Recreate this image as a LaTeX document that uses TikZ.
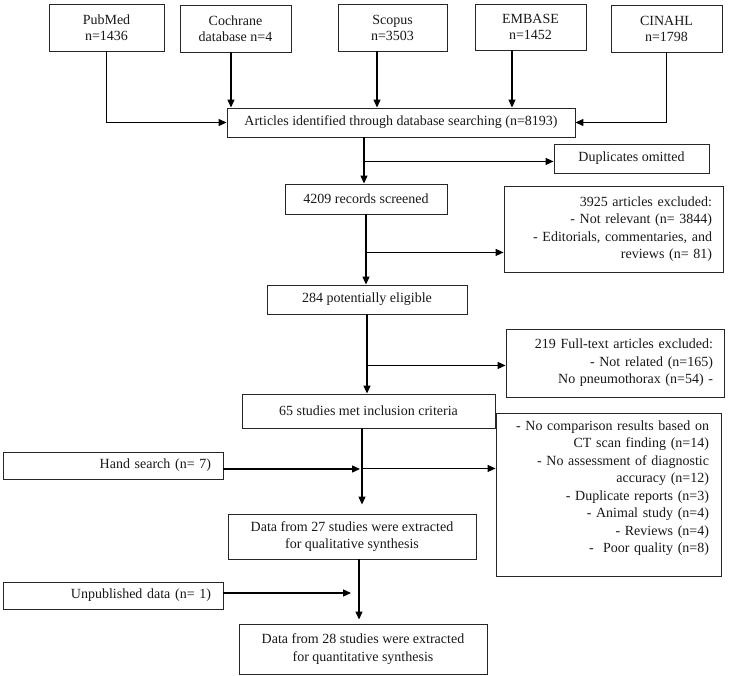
\documentclass[tikz,border=0pt]{standalone}
\usepackage{fontspec}
\setmainfont{Liberation Serif}
\usetikzlibrary{arrows.meta}
\begin{document}
\begin{tikzpicture}[x=1pt,y=-1pt,
  box/.style={draw=black!85, line width=0.9pt, inner sep=0pt, align=center, text=black!90, font=\fontsize{14}{17.5}\selectfont},
  topbox/.style={box, font=\fontsize{14}{16}\selectfont},
  rbox/.style={box, align=right},
  arr/.style={draw=black, line width=1.3pt, -{Triangle[length=8pt,width=7pt]}},
  txt/.style={inner sep=0pt, align=right, text=black!90, font=\fontsize{14}{17.5}\selectfont}]
\useasboundingbox (0,0) rectangle (729,676);
\fill[white] (0,0) rectangle (729,676);

% sources
\node[topbox, minimum width=115pt, minimum height=47pt] (pub)  at (106.5,27.5) {PubMed\\n=1436};
\node[topbox, minimum width=111pt, minimum height=47pt] (coch) at (235.5,28.5) {Cochrane\\database n=4};
\node[topbox, minimum width=109pt, minimum height=47pt] (scop) at (392.5,27.5) {Scopus\\n=3503};
\node[topbox, minimum width=111pt, minimum height=46pt] (emb)  at (530.5,27)   {EMBASE\\n=1452};
\node[topbox, minimum width=111pt, minimum height=47pt] (cin)  at (666.5,28.5) {CINAHL\\n=1798};

% main flow
\node[box, minimum width=348pt, minimum height=29pt] (art) at (401,122.5) {Articles identified through database searching (n=8193)};
\node[box, minimum width=155pt, minimum height=29pt] (dup) at (631.5,158.5) {Duplicates omitted};
\node[box, minimum width=162pt, minimum height=30pt] (rec) at (366,199) {4209 records screened};
\node[rbox, text width=197pt, minimum width=219pt, minimum height=86pt] (exc1) at (613.5,229)
  {3925 articles excluded:\\- Not relevant (n= 3844)\\- Editorials, commentaries, and\\reviews (n= 81)};
\node[box, minimum width=200pt, minimum height=29pt] (elig) at (367,299.5) {284 potentially eligible};
\node[rbox, text width=196pt, minimum width=218pt, minimum height=68pt] (exc2) at (615,363)
  {219 Full-text articles excluded:\\- Not related (n=165)\\No pneumothorax (n=54) -};
\node[box, minimum width=253pt, minimum height=34pt] (met) at (368.5,411) {65 studies met inclusion criteria};
\node[box, minimum width=225pt, minimum height=163pt] (exc3) at (608.5,494.5) {};
\node[txt, text width=201pt] (exc3t) at ([yshift=6.5pt]exc3.center)
  {- No comparison results based on\\CT scan finding (n=14)\\- No assessment of diagnostic\\accuracy (n=12)\\- Duplicate reports (n=3)\\- Animal study (n=4)\\- Reviews (n=4)\\-\ \ Poor quality (n=8)};
\node[rbox, text width=196pt, minimum width=220pt, minimum height=27pt] (hand) at (113,465.5) {Hand search (n= 7)};
\node[box, minimum width=248pt, minimum height=45pt] (d27) at (352,536.5) {Data from 27 studies were extracted\\for qualitative synthesis};
\node[rbox, text width=196pt, minimum width=220pt, minimum height=27pt] (unp) at (113,595.5) {Unpublished data (n= 1)};
\node[box, minimum width=248pt, minimum height=50pt] (d28) at (363,649) {Data from 28 studies were extracted\\for quantitative synthesis};

% source connectors
\draw[arr] (pub.south) |- (art.west);
\coordinate (cochout) at ([xshift=-4.5pt]coch.south);
\draw[arr] (cochout) -- (cochout |- art.north);
\coordinate (scopout) at ([xshift=-15.5pt]scop.south);
\draw[arr] (scopout) -- (scopout |- art.north);
\coordinate (embout) at ([xshift=-18.5pt]emb.south);
\draw[arr] (embout) -- (embout |- art.north);
\draw[arr] (cin.south) |- (art.east);

% trunk
\coordinate (t1) at ([xshift=-37pt]art.south);
\draw[arr] (t1) -- (t1 |- rec.north);
\coordinate (b1) at ([yshift=-24pt]t1);
\draw[arr] (b1) -- (b1 -| dup.west);

\draw[arr] (rec.south) -- (rec.south |- elig.north);
\coordinate (b2) at ([yshift=-38pt]rec.south);
\draw[arr] (b2) -- (b2 -| exc1.west);

\draw[arr] (elig.south) -- (elig.south |- met.north);
\coordinate (b3) at ([yshift=-51pt]elig.south);
\draw[arr] (b3) -- (b3 -| exc2.west);

\coordinate (t4) at ([xshift=-6.5pt]met.south);
\draw[arr, shorten >=9pt] (t4) -- (t4 |- d27.north);
\coordinate (b4) at ([yshift=-40pt]t4);
\draw[arr] (b4) -- (b4 -| exc3.west);
\coordinate (h1) at ([yshift=-3.5pt]hand.east);
\draw[arr, shorten >=2pt] (h1) -- (h1 -| t4);

\coordinate (t5) at ([xshift=7pt]d27.south);
\draw[arr, shorten >=4pt] (t5) -- (t5 |- d28.north);
\coordinate (u1) at ([yshift=2.5pt]unp.east);
\draw[arr, shorten >=8pt] (u1) -- (u1 -| t5);
\end{tikzpicture}
\end{document}
